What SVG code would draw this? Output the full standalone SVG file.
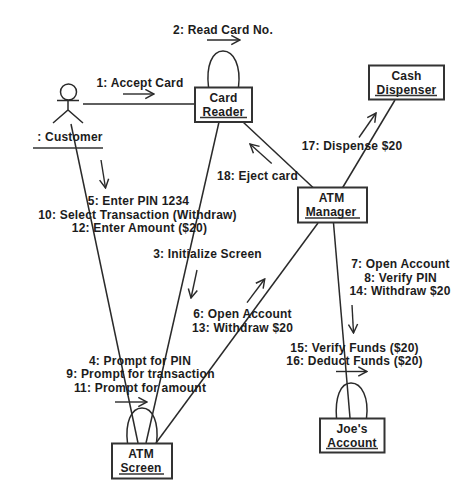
<svg xmlns="http://www.w3.org/2000/svg" width="474" height="502" viewBox="0 0 474 502">
<style>
text{font-family:"Liberation Sans",Arial,sans-serif;font-weight:bold;font-size:12px;fill:#1c1c1c;text-anchor:middle;letter-spacing:.2px}
.box{fill:#fff;stroke:#333;stroke-width:2}
.ln{fill:none;stroke:#2a2a2a;stroke-width:1.5}
.u{fill:none;stroke:#333;stroke-width:1.5}
.ar{fill:none;stroke:#2a2a2a;stroke-width:1.4;marker-end:url(#open)}
</style>
<defs>
<marker id="open" viewBox="0 0 12 12" refX="10.500" refY="6" markerWidth="11" markerHeight="11" markerUnits="userSpaceOnUse" orient="auto">
<path d="M1 1L10.500 6L1 11" fill="none" stroke="#2a2a2a" stroke-width="1.600"/>
</marker>
</defs>
<g id="connectors">
<path class="ln" d="M83 104H194"/>
<path class="ln" d="M71 124L138 443"/>
<path class="ln" d="M219 122L146 443"/>
<path class="ln" d="M156 443L318 223"/>
<path class="ln" d="M333.500 223L350 418"/>
<path class="ln" d="M313 187.500L243 122"/>
<path class="ln" d="M342.700 187.500L395 100"/>
<path class="ln" d="M208.500 87C206 66 212 51 223 51C234 51 241 66 238.500 87"/>
<path class="ln" d="M127.500 443C125 423 131 408 142 408C153 408 159 423 156.500 443"/>
<path class="ln" d="M336.500 418C335 398 340 383 351 383C362 383 369 398 366.500 418"/>
<path class="ar" d="M123 94H154"/>
<path class="ar" d="M207 40H240"/>
<path class="ar" d="M101 160L105.500 188"/>
<path class="ar" d="M197 270L191 298"/>
<path class="ar" d="M247 302.700L264.700 279"/>
<path class="ar" d="M115 402H147"/>
<path class="ar" d="M352 305L353.500 333"/>
<path class="ar" d="M336 371.500H367"/>
<path class="ar" d="M359 137.500L376 113"/>
<path class="ar" d="M271.700 163.500L250 144"/>
</g>
<g id="customer">
<circle class="ln" cx="68.500" cy="92" r="8"/>
<path class="ln" d="M57 100.500H79M68 100V110M53 123L68 110L83 123"/>
<text x="70" y="141">: Customer</text>
<path class="u" d="M33 148H103"/>
</g>
<g id="card-reader">
<rect class="box" x="195" y="87.500" width="57" height="34.500"/>
<text x="223.500" y="102">Card</text>
<text x="223.500" y="115.500">Reader</text>
<path class="u" d="M200 117.500H247"/>
</g>
<g id="cash-dispenser">
<rect class="box" x="369" y="65.500" width="75" height="34"/>
<text x="406.500" y="80">Cash</text>
<text x="406.500" y="94">Dispenser</text>
<path class="u" d="M375 95.500H437"/>
</g>
<g id="atm-manager">
<rect class="box" x="298" y="187.500" width="69" height="35"/>
<text x="331.500" y="202">ATM</text>
<text x="331" y="216">Manager</text>
<path class="u" d="M305 218H360"/>
</g>
<g id="atm-screen">
<rect class="box" x="112" y="443.500" width="60" height="35"/>
<text x="141" y="457.500">ATM</text>
<text x="141" y="472">Screen</text>
<path class="u" d="M119 474H164"/>
</g>
<g id="joes-account">
<rect class="box" x="320" y="418.500" width="64.500" height="34"/>
<text x="352" y="433">Joe's</text>
<text x="352" y="447">Account</text>
<path class="u" d="M326 448.500H378"/>
</g>
<g id="labels">
<text x="223" y="34">2: Read Card No.</text>
<text x="140" y="87">1: Accept Card</text>
<text x="138.500" y="205">5: Enter PIN 1234</text>
<text x="137.500" y="219">10: Select Transaction (Withdraw)</text>
<text x="139.500" y="232">12: Enter Amount ($20)</text>
<text x="257.500" y="180">18: Eject card</text>
<text x="352" y="150">17: Dispense $20</text>
<text x="207.500" y="258">3: Initialize Screen</text>
<text x="242.500" y="318">6: Open Account</text>
<text x="242.500" y="332">13: Withdraw $20</text>
<text x="140" y="365">4: Prompt for PIN</text>
<text x="140.500" y="378">9: Prompt for transaction</text>
<text x="140" y="392">11: Prompt for amount</text>
<text x="400.500" y="268">7: Open Account</text>
<text x="400.500" y="282">8: Verify PIN</text>
<text x="400" y="295">14: Withdraw $20</text>
<text x="354.500" y="352">15: Verify Funds ($20)</text>
<text x="354.500" y="365">16: Deduct Funds ($20)</text>
</g>
</svg>
